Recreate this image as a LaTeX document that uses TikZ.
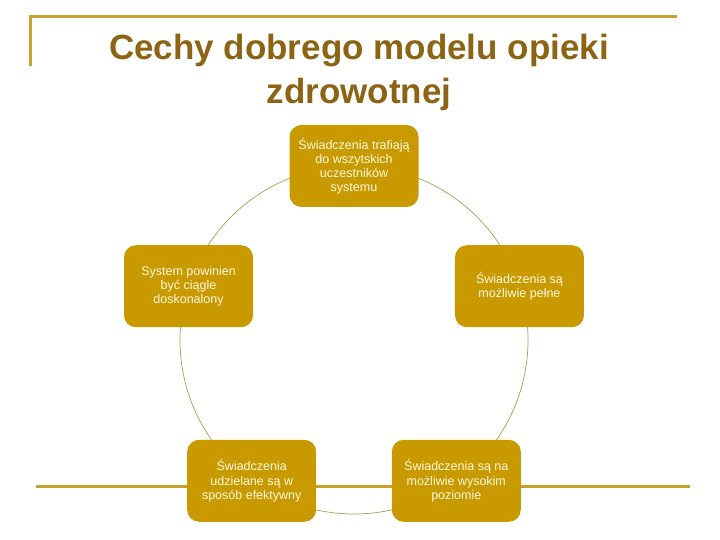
\documentclass[tikz,border=0pt]{standalone}
\usepackage{fontspec}
\setmainfont{Liberation Sans}
\usetikzlibrary{calc}
\definecolor{nodefill}{HTML}{C99A00}
\definecolor{titlecol}{HTML}{8C6414}
\definecolor{framecol}{HTML}{C8A02A}
\definecolor{arccol}{HTML}{B09A50}
\definecolor{txtcol}{HTML}{FFF8E0}
\begin{document}
\begin{tikzpicture}[x=1pt,y=1pt,
  cyclebox/.style={fill=nodefill, rounded corners=12pt, minimum width=129pt, minimum height=82pt,
    text=txtcol, font=\fontsize{12.5}{14.2}\selectfont, align=center, inner sep=2pt},
  frameline/.style={draw=framecol, line width=3pt},
  arcline/.style={draw=arccol, line width=0.7pt}]
\useasboundingbox (0,0) rectangle (720,540);
\fill[white] (0,0) rectangle (720,540);
% frame lines
\coordinate (ftl) at (30,523);
\coordinate (ftr) at (677,523);
\coordinate (fvb) at (30,474);
\coordinate (fbl) at (36,53);
\coordinate (fbr) at (690,53);
\draw[frameline] (fvb) -- (ftl) -- (ftr);
\draw[frameline] (fbl) -- (fbr);
% title
\node[text=titlecol, font=\fontsize{35}{44}\selectfont\bfseries, align=center] (title) at (359,467.5)
  {Cechy dobrego modelu opieki\\zdrowotnej};
% cycle
\coordinate (c) at (354,200);
\draw[arcline] (c) ++(90:174) arc[start angle=90, end angle=-270, radius=174];
\node[cyclebox] (n1) at ($(c)+(90:174)$) {Świadczenia trafiają\\do wszytskich\\uczestników\\systemu};
\node[cyclebox] (n2) at ($(c)+(18:174)$) {Świadczenia są\\możliwie pełne};
\node[cyclebox] (n3) at ($(c)+(306:174)$) {Świadczenia są na\\możliwie wysokim\\poziomie};
\node[cyclebox] (n4) at ($(c)+(234:174)$) {Świadczenia\\udzielane są w\\sposób efektywny};
\node[cyclebox] (n5) at ($(c)+(162:174)$) {System powinien\\być ciągle\\doskonalony};
\end{tikzpicture}
\end{document}
